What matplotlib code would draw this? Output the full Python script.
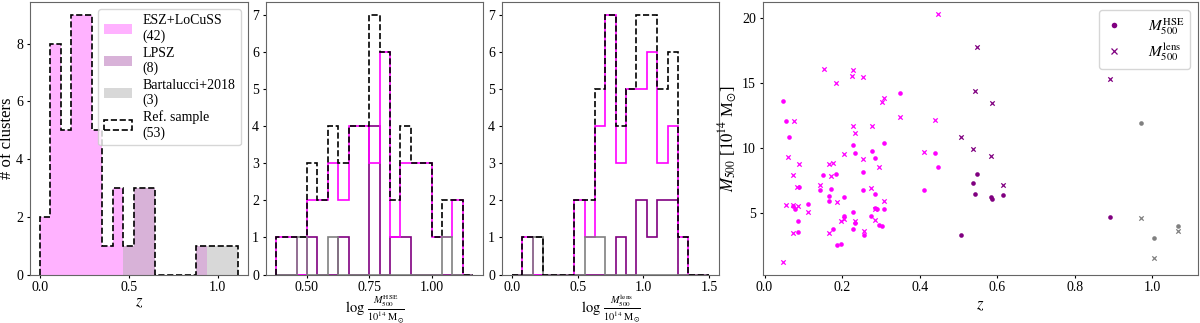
import numpy as np
import matplotlib
matplotlib.use("Agg")
import matplotlib.pyplot as plt
import matplotlib.patches as mpatches
from matplotlib.lines import Line2D

plt.rcParams['font.family'] = ['Liberation Serif', 'DejaVu Serif']
plt.rcParams['mathtext.fontset'] = 'stix'
plt.rcParams['font.size'] = 10
plt.rcParams['axes.labelsize'] = 12
plt.rcParams['xtick.major.size'] = 2.5
plt.rcParams['ytick.major.size'] = 2.5
plt.rcParams['xtick.major.pad'] = 2.5
plt.rcParams['ytick.major.pad'] = 2.5
plt.rcParams['axes.edgecolor'] = '0.4'

# ---------------- data ----------------
# redshift histogram (stacked): 19 bins
z_edges = np.linspace(0.0, 1.115, 20)
z_esz = [2, 8, 5, 9, 9, 5, 1, 3, 0, 0, 0, 0, 0, 0, 0, 0, 0, 0, 0]
z_lpsz = [0, 0, 0, 0, 0, 0, 0, 0, 1, 3, 3, 0, 0, 0, 0, 1, 0, 0, 0]
z_bart = [0, 0, 0, 0, 0, 0, 0, 0, 0, 0, 0, 0, 0, 0, 0, 0, 1, 1, 1]

# log M_HSE histogram
hse_edges = np.linspace(0.377, 1.163, 20)
hse_esz = [1, 1, 0, 2, 2, 3, 2, 4, 4, 3, 6, 1, 3, 3, 3, 1, 1, 2, 0]
hse_lpsz = [0, 0, 0, 1, 0, 0, 1, 0, 0, 4, 0, 1, 1, 0, 0, 0, 0, 0, 0]
hse_bart = [0, 0, 1, 0, 0, 1, 0, 0, 0, 0, 0, 0, 0, 0, 0, 0, 1, 0, 0]

# log M_lens histogram
lens_edges = np.linspace(0.0, 1.5, 20)
lens_esz = [0, 1, 0, 0, 0, 0, 2, 1, 4, 7, 3, 5, 5, 6, 3, 4, 1, 0, 0]
lens_lpsz = [0, 0, 0, 0, 0, 0, 0, 0, 0, 0, 1, 0, 2, 1, 2, 2, 0, 0, 0]
lens_bart = [0, 0, 1, 0, 0, 0, 0, 1, 1, 0, 0, 0, 0, 0, 0, 0, 0, 0, 0]

# scatter: ESZ+LoCuSS
esz_z_hse = [0.047, 0.055, 0.062, 0.074, 0.079, 0.085, 0.085, 0.088, 0.113, 0.143,
             0.152, 0.165, 0.167, 0.171, 0.176, 0.183, 0.188, 0.196, 0.206, 0.206,
             0.227, 0.227, 0.229, 0.233, 0.234, 0.253, 0.255, 0.257, 0.275, 0.278,
             0.284, 0.284, 0.291, 0.286, 0.294, 0.302, 0.308, 0.308, 0.349, 0.411,
             0.439, 0.448]
esz_m_hse = [13.66, 12.12, 10.89, 5.56, 5.31, 4.43, 3.58, 7.00, 5.72, 6.79,
             7.92, 5.97, 6.33, 6.87, 3.77, 8.05, 2.56, 2.64, 6.28, 4.79,
             5.08, 3.82, 10.25, 9.61, 4.23, 8.18, 6.81, 3.35, 4.79, 9.77,
             9.25, 6.51, 5.36, 5.40, 4.08, 4.03, 10.43, 5.30, 14.23, 6.79,
             9.64, 8.59]
esz_z_lens = [0.047, 0.055, 0.061, 0.076, 0.073, 0.074, 0.083, 0.086, 0.088, 0.113,
              0.143, 0.153, 0.165, 0.167, 0.171, 0.176, 0.183, 0.188, 0.196, 0.206,
              0.206, 0.226, 0.229, 0.229, 0.233, 0.234, 0.253, 0.255, 0.257, 0.275,
              0.278, 0.284, 0.284, 0.294, 0.302, 0.308, 0.308, 0.349, 0.411, 0.439,
              0.448, 0.074]
esz_m_lens = [1.25, 5.64, 9.31, 12.10, 7.97, 3.46, 7.05, 5.56, 8.77, 5.12,
              7.18, 16.08, 3.46, 8.77, 7.90, 8.90, 15.05, 5.85, 4.45, 9.56,
              4.53, 15.60, 16.02, 11.74, 11.15, 4.43, 15.51, 9.15, 3.67, 6.92,
              11.74, 4.49, 5.36, 8.54, 13.54, 13.85, 5.92, 12.38, 9.69, 12.18,
              20.30, 5.62]

# scatter: LPSZ
lpsz_z = [0.506, 0.549, 0.538, 0.543, 0.584, 0.587, 0.616, 0.891]
lpsz_m_hse = [3.35, 8.05, 7.31, 6.48, 6.28, 6.08, 6.38, 4.69]
lpsz_m_lens = [10.85, 17.82, 9.97, 14.43, 9.38, 13.46, 7.20, 15.30]

# scatter: Bartalucci+2018
bart_z = [0.972, 1.004, 1.067]
bart_m_hse = [11.92, 3.12, 4.02]
bart_m_lens = [4.64, 1.56, 3.66]

c_esz, c_lpsz, c_bart = 'magenta', 'purple', 'gray'

# ---------------- figure ----------------
fig = plt.figure(figsize=(12, 3.23), dpi=100)
H = 323.0
def rect(x0, x1, y0=2.0, y1=274.5):
    return [x0 / 1200, (H - y1) / H, (x1 - x0) / 1200, (y1 - y0) / H]

ax1 = fig.add_axes(rect(30, 248))
ax2 = fig.add_axes(rect(266, 483))
ax3 = fig.add_axes(rect(502, 719))
ax4 = fig.add_axes(rect(763, 1198))

# panel 1: stacked stepfilled
b0 = np.zeros(len(z_esz))
b1 = b0 + np.array(z_esz)
b2 = b1 + np.array(z_lpsz)
b3 = b2 + np.array(z_bart)
ax1.stairs(b1, z_edges, baseline=b0, fill=True, color=c_esz, alpha=0.3, lw=0)
ax1.stairs(b2, z_edges, baseline=b1, fill=True, color=c_lpsz, alpha=0.3, lw=0)
ax1.stairs(b3, z_edges, baseline=b2, fill=True, color=c_bart, alpha=0.3, lw=0)
ax1.stairs(b3, z_edges, color='k', ls='--', lw=1.2)
ax1.set_yticks([0, 2, 4, 6, 8])
ax1.set_xticks([0.0, 0.5, 1.0])
ax1.set_xlabel('$z$', labelpad=0)
ax1.set_ylabel('# of clusters', labelpad=1)
handles = [mpatches.Patch(color=c_esz, alpha=0.3, lw=0),
           mpatches.Patch(color=c_lpsz, alpha=0.3, lw=0),
           mpatches.Patch(color=c_bart, alpha=0.3, lw=0),
           mpatches.Patch(facecolor='none', edgecolor='k', ls='--', lw=1.2)]
labels = ['ESZ+LoCuSS\n(42)', 'LPSZ\n(8)', 'Bartalucci+2018\n(3)', 'Ref. sample\n(53)']
leg = ax1.legend(handles, labels, loc='upper right', fontsize=10, labelspacing=0.25,
                 handlelength=2.0, borderpad=0.4)

# panels 2 & 3: step histograms
def step_panel(ax, edges, esz, lpsz, bart):
    tot = np.array(esz) + np.array(lpsz) + np.array(bart)
    ax.stairs(lpsz, edges, color=c_lpsz, lw=1.2)
    ax.stairs(esz, edges, color=c_esz, lw=1.2)
    ax.stairs(bart, edges, color=c_bart, lw=1.2)
    ax.stairs(tot, edges, color='k', ls='--', lw=1.2)
    ax.set_yticks(range(0, 8))

step_panel(ax2, hse_edges, hse_esz, hse_lpsz, hse_bart)
ax2.set_xticks([0.5, 0.75, 1.0])
ax2.set_xticklabels(['0.50', '0.75', '1.00'])
ax2.set_xlabel(r'$\log\,\frac{M_{500}^{\rm HSE}}{10^{14}\ {\rm M}_{\odot}}$',
               labelpad=-1, fontsize=10.5)

step_panel(ax3, lens_edges, lens_esz, lens_lpsz, lens_bart)
ax3.set_xticks([0.0, 0.5, 1.0, 1.5])
ax3.set_xlabel(r'$\log\,\frac{M_{500}^{\rm lens}}{10^{14}\ {\rm M}_{\odot}}$',
               labelpad=-1, fontsize=10.5)

# panel 4: scatter
ax4.scatter(esz_z_hse, esz_m_hse, s=11, marker='o', color=c_esz, lw=0)
ax4.scatter(esz_z_lens, esz_m_lens, s=10, marker='x', color=c_esz, lw=0.9)
ax4.scatter(lpsz_z, lpsz_m_hse, s=11, marker='o', color=c_lpsz, lw=0)
ax4.scatter(lpsz_z, lpsz_m_lens, s=10, marker='x', color=c_lpsz, lw=0.9)
ax4.scatter(bart_z, bart_m_hse, s=11, marker='o', color=c_bart, lw=0)
ax4.scatter(bart_z, bart_m_lens, s=10, marker='x', color=c_bart, lw=0.9)
ax4.set_xlabel('$z$', labelpad=2)
ax4.set_ylabel(r'$M_{500}$ [$10^{14}$ M$_{\odot}$]', labelpad=2)
ax4.set_yticks([5, 10, 15, 20])
leg_h = [Line2D([], [], ls='none', marker='o', color=c_lpsz, ms=4, mew=0),
         Line2D([], [], ls='none', marker='x', color=c_lpsz, ms=4, mew=0.9)]
ax4.legend(leg_h, [r'$M_{500}^{\rm HSE}$', r'$M_{500}^{\rm lens}$'],
           loc='upper right', fontsize=11, markerfirst=True, handlelength=1.2,
           handletextpad=1.6, labelspacing=0.3, borderpad=0.4)

fig.savefig('out.png', dpi=100)
